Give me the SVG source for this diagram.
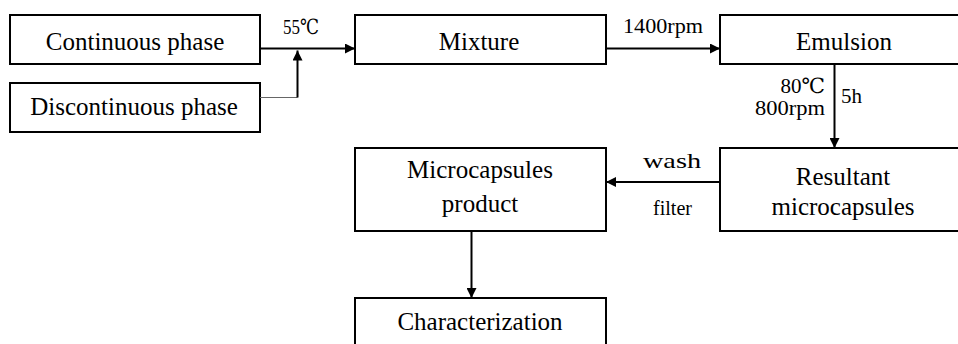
<svg xmlns="http://www.w3.org/2000/svg" width="958" height="344" viewBox="0 0 958 344">
  <style>
    .box { fill: #fff; stroke: #000; stroke-width: 2; }
    .lbl { font-family: "Liberation Serif", "Times New Roman", serif; font-size: 25px; fill: #000; text-anchor: middle; }
    .note { font-family: "Liberation Serif", "DejaVu Serif", serif; font-size: 21px; fill: #000; }
    .wire { fill: none; stroke: #000; stroke-width: 2; }
    .thin { fill: none; stroke: #666; stroke-width: 1.2; }
  </style>
  <defs>
    <marker id="arrow" viewBox="0 0 10 10" refX="10" refY="5" markerWidth="11" markerHeight="10" markerUnits="userSpaceOnUse" orient="auto">
      <path d="M0,0 L10,5 L0,10 Z" fill="#000"/>
    </marker>
  </defs>

  <rect width="958" height="344" fill="#fff"/>

  <g id="continuous">
    <rect class="box" x="10" y="15" width="250" height="49"/>
    <text class="lbl" x="135" y="50">Continuous phase</text>
  </g>
  <g id="discontinuous">
    <rect class="box" x="10" y="83" width="250" height="49"/>
    <text class="lbl" x="134" y="115">Discontinuous phase</text>
  </g>
  <g id="mixture">
    <rect class="box" x="355" y="15" width="251" height="49"/>
    <text class="lbl" x="479" y="50">Mixture</text>
  </g>
  <g id="emulsion">
    <rect class="box" x="720" y="15" width="250" height="49"/>
    <text class="lbl" x="844" y="50">Emulsion</text>
  </g>
  <g id="resultant">
    <rect class="box" x="720" y="148" width="250" height="83"/>
    <text class="lbl" x="843" y="185">Resultant</text>
    <text class="lbl" x="843" y="215">microcapsules</text>
  </g>
  <g id="product">
    <rect class="box" x="355" y="148" width="251" height="83"/>
    <text class="lbl" x="480" y="178">Microcapsules</text>
    <text class="lbl" x="480" y="212">product</text>
  </g>
  <g id="characterization">
    <rect class="box" x="355" y="298" width="251" height="60"/>
    <text class="lbl" x="480" y="330">Characterization</text>
  </g>

  <g id="connectors">
    <line class="wire" x1="260" y1="48.5" x2="355" y2="48.5" marker-end="url(#arrow)"/>
    <polyline class="thin" points="260,97.5 297.5,97.5"/>
    <line class="wire" x1="297.5" y1="97.5" x2="297.5" y2="50.5" marker-end="url(#arrow)"/>
    <line class="wire" x1="606" y1="48.5" x2="720" y2="48.5" marker-end="url(#arrow)"/>
    <line class="wire" x1="834.5" y1="64" x2="834.5" y2="148" marker-end="url(#arrow)"/>
    <line class="wire" x1="720" y1="182" x2="606" y2="182" marker-end="url(#arrow)"/>
    <line class="wire" x1="471.5" y1="231" x2="471.5" y2="298" marker-end="url(#arrow)"/>
  </g>

  <g id="labels">
    <text class="note" x="283" y="34" textLength="36" lengthAdjust="spacingAndGlyphs">55℃</text>
    <text class="note" x="623" y="33" textLength="80" lengthAdjust="spacingAndGlyphs">1400rpm</text>
    <text class="note" x="825" y="93" text-anchor="end">80℃</text>
    <text class="note" x="755" y="115" textLength="70" lengthAdjust="spacingAndGlyphs">800rpm</text>
    <text class="note" x="841" y="103">5h</text>
    <text class="note" x="643" y="168" textLength="58" lengthAdjust="spacingAndGlyphs">wash</text>
    <text class="note" x="653" y="215" textLength="39" lengthAdjust="spacingAndGlyphs">filter</text>
  </g>
</svg>
